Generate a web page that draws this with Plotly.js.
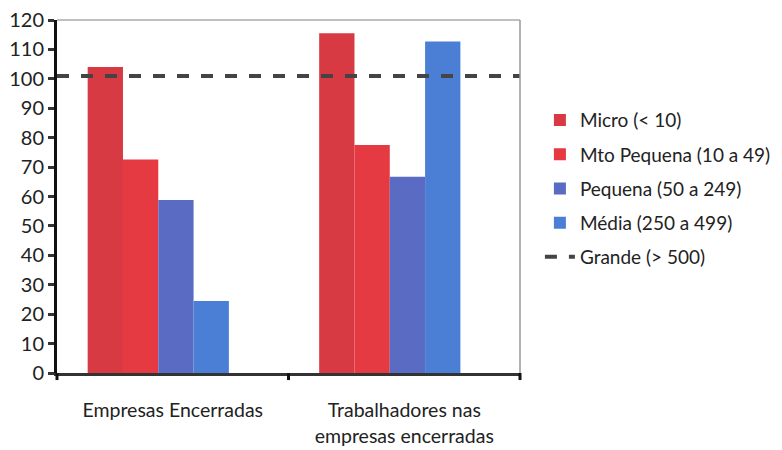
<!DOCTYPE html>
<html><head><meta charset="utf-8">
<script src="https://cdn.plot.ly/plotly-3.0.1.min.js"></script>
<style>body{margin:0;background:#fff}#c{width:782px;height:450px}</style>
</head><body><div id="c"></div>
<script>
var categories = ["Empresas Encerradas", "Trabalhadores nas<br>empresas encerradas"];
var seriesNames = ["Micro (< 10)", "Mto Pequena (10 a 49)", "Pequena (50 a 249)", "Média (250 a 499)"];
var micro = [104, 115.5];
var mtoPequena = [72.6, 77.5];
var pequena = [58.8, 66.7];
var media = [24.5, 112.7];
var grandeName = "Grande (> 500)";
var grande = 101;

var colors = ["#d83a44", "#e63a42", "#5a6bc4", "#4b7fd6"];
var xIdx = [0, 1];
var xr = [-0.4375, 1.5625];
var seriesVals = [micro, mtoPequena, pequena, media];

var traces = seriesVals.map(function(v, i){
  return {type:"bar", x:xIdx, y:v, name:seriesNames[i], legendgroup:"g"+i,
    marker:{color:colors[i], line:{width:0}}};
});
traces.push({type:"scatter", mode:"lines", x:xr, y:[grande, grande], name:grandeName, legendgroup:"g4",
  line:{color:"#444", width:4, dash:"dash"}});

var font = "Lato, 'Open Sans', sans-serif";
var layout = {
  width:782, height:450,
  margin:{l:57, r:262, t:20, b:77, autoexpand:false},
  paper_bgcolor:"#fff", plot_bgcolor:"#fff",
  barmode:"group", bargap:0.39, bargroupgap:0,
  font:{family:font, color:"#222"},
  showlegend:true,
  legend:{x:1.043, y:0.77, xanchor:"left", yanchor:"top", traceorder:"grouped", tracegroupgap:6.5,
    font:{size:19, color:"#222"}, bgcolor:"rgba(0,0,0,0)"},
  xaxis:{type:"linear", range:xr, tickvals:[xr[0]+0.5, xr[0]+1.5], ticktext:categories,
    ticks:"outside", ticklen:18, tickcolor:"rgba(0,0,0,0)", showgrid:false, zeroline:false,
    showline:true, linecolor:"#333", linewidth:3, tickfont:{size:19.5, color:"#222"}},
  yaxis:{range:[0,120], dtick:10, ticks:"outside", ticklen:6, tickwidth:3, tickcolor:"#333",
    showgrid:false, zeroline:false, showline:true, linecolor:"#111", linewidth:3,
    tickfont:{size:20, color:"#222"}},
  shapes:[
    {type:"line", xref:"paper", yref:"paper", x0:0, x1:1, y0:1, y1:1, line:{color:"#aaa", width:1.5}},
    {type:"line", xref:"paper", yref:"paper", x0:1, x1:1, y0:0, y1:1, line:{color:"#999", width:1.5}},
    {type:"line", xref:"paper", yref:"paper", x0:0, x1:0, y0:0, y1:-0.02, line:{color:"#111", width:3}},
    {type:"line", xref:"paper", yref:"paper", x0:0.5, x1:0.5, y0:0, y1:-0.02, line:{color:"#111", width:3}},
    {type:"line", xref:"paper", yref:"paper", x0:1, x1:1, y0:0, y1:-0.02, line:{color:"#111", width:3}}
  ]
};
Plotly.newPlot("c", traces, layout, {displayModeBar:false, staticPlot:true});
</script></body></html>
